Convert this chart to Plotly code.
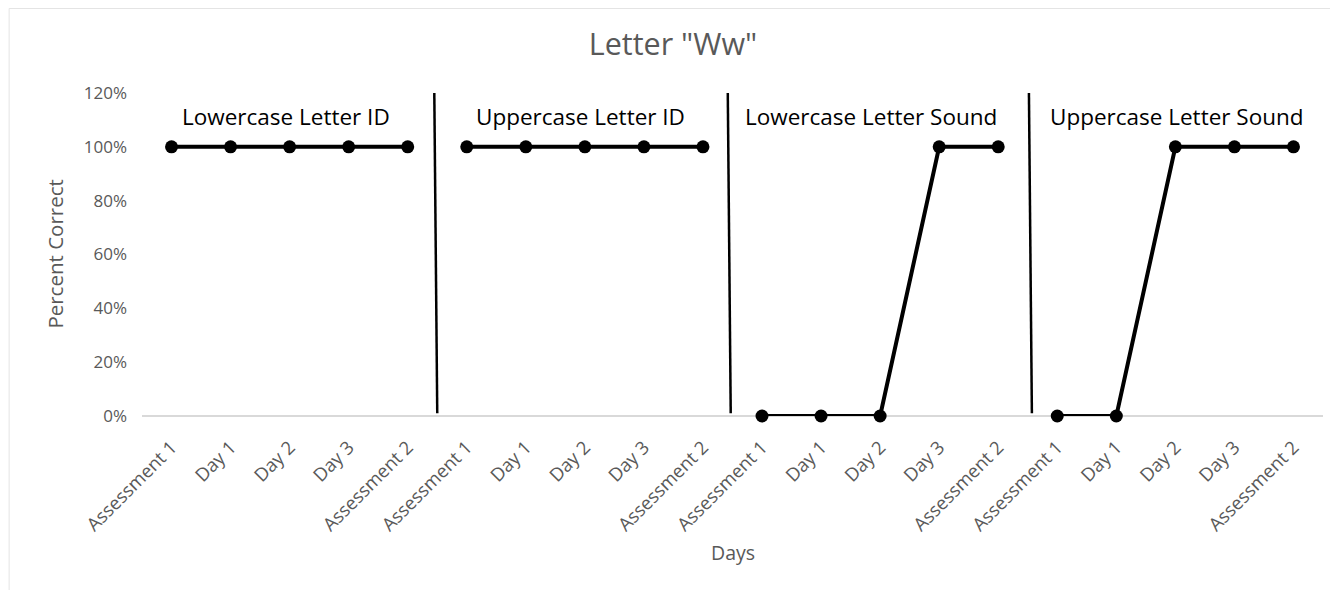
import plotly.graph_objects as go

categories = ["Assessment 1", "Day 1", "Day 2", "Day 3", "Assessment 2"] * 4
group_names = ["Lowercase Letter ID", "Uppercase Letter ID",
               "Lowercase Letter Sound", "Uppercase Letter Sound"]
lower_id = [1.0, 1.0, 1.0, 1.0, 1.0]
upper_id = [1.0, 1.0, 1.0, 1.0, 1.0]
lower_sound = [0.0, 0.0, 0.0, 1.0, 1.0]
upper_sound = [0.0, 0.0, 1.0, 1.0, 1.0]
series = [lower_id, upper_id, lower_sound, upper_sound]
y_ticks = [0, 0.2, 0.4, 0.6, 0.8, 1.0, 1.2]
y_ticklabels = ["0%", "20%", "40%", "60%", "80%", "100%", "120%"]
label_pos = [1.94, 6.92, 11.84, 17.03]
dividers = [(4.45, 4.5), (9.42, 9.47), (14.52, 14.57)]

FONT = "Open Sans, Liberation Sans, sans-serif"
GRAY = "#595959"

fig = go.Figure()
for g, vals in enumerate(series):
    xs = list(range(g * 5, g * 5 + 5))
    fig.add_trace(go.Scatter(
        x=xs, y=vals, mode="lines+markers",
        line=dict(color="black", width=4),
        marker=dict(color="black", size=13),
        cliponaxis=False,
        showlegend=False, hoverinfo="skip"))

for x0, x1 in dividers:
    fig.add_shape(type="line", xref="x", yref="y", x0=x0, x1=x1, y0=1.2, y1=0.01,
                  line=dict(color="black", width=2.5))

for name, xp in zip(group_names, label_pos):
    fig.add_annotation(x=xp, y=1.113, xref="x", yref="y", text=name,
                       showarrow=False, font=dict(family=FONT, size=22.5, color="black"))

fig.add_annotation(x=-0.074, y=0.5015, xref="paper", yref="paper", text="Percent Correct",
                   textangle=-90, showarrow=False, xanchor="center", yanchor="middle",
                   font=dict(family=FONT, size=20.5, color=GRAY))
fig.add_annotation(x=0.5, y=-0.424, xref="paper", yref="paper", text="Days",
                   showarrow=False, xanchor="center", yanchor="middle",
                   font=dict(family=FONT, size=19.5, color=GRAY))

fig.add_shape(type="rect", xref="paper", yref="paper",
              x0=-0.1125, x1=1.05, y0=-0.7, y1=1.2616,
              line=dict(color="#E4E4E4", width=1), layer="below")

fig.update_layout(
    width=1330, height=582,
    paper_bgcolor="white", plot_bgcolor="white",
    margin=dict(l=133.5, r=14.5, t=85, b=174, autoexpand=False),
    title=dict(text='Letter "Ww"', x=0.5, xanchor="center", y=0.938, yanchor="middle",
               font=dict(family=FONT, size=30.5, color=GRAY)),
    xaxis=dict(range=[-0.5, 19.5], tickmode="array", tickvals=list(range(20)),
               ticktext=categories, tickangle=-45, showgrid=False, zeroline=False,
               showline=False, ticklabelstandoff=16,
               tickfont=dict(family=FONT, size=18.5, color=GRAY)),
    yaxis=dict(range=[0, 1.2], tickvals=y_ticks, ticktext=y_ticklabels,
               showgrid=False, zeroline=True, zerolinecolor="#D9D9D9", zerolinewidth=1.5,
               showline=False, ticklabelstandoff=14,
               tickfont=dict(family=FONT, size=17, color=GRAY)),
)

fig.write_html("out.html")
